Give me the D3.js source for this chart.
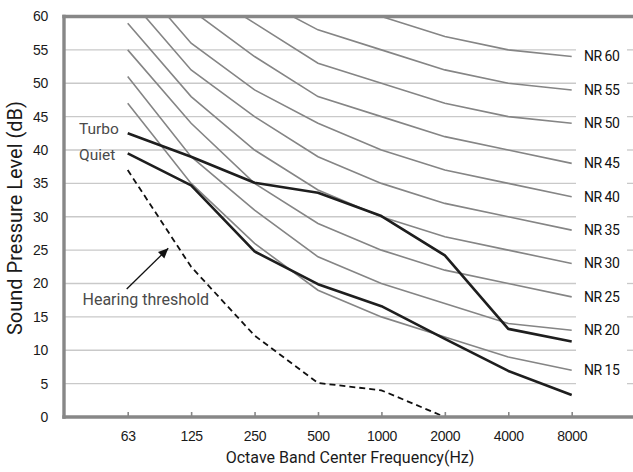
<!DOCTYPE html>
<html>
<head>
<meta charset="utf-8">
<script src="https://cdn.jsdelivr.net/npm/d3@7"></script>
<style>
  html, body { margin: 0; padding: 0; background: #fff; }
  svg { display: block; font-family: Roboto, "Open Sans", sans-serif; }
</style>
</head>
<body>
<script>
// ---- Data ----
const freqs = ["63", "125", "250", "500", "1000", "2000", "4000", "8000"];
const yTicks = [0, 5, 10, 15, 20, 25, 30, 35, 40, 45, 50, 55, 60];

const nr15 = [47, 35, 26, 19, 15, 12, 9, 7];
const nr20 = [51, 39, 31, 24, 20, 17, 14, 13];
const nr25 = [55, 44, 35, 29, 25, 22, 20, 18];
const nr30 = [59, 48, 40, 34, 30, 27, 25, 23];
const nr35 = [63, 52, 45, 39, 35, 32, 30, 28];
const nr40 = [67, 56, 49, 44, 40, 37, 35, 33];
const nr45 = [71, 61, 54, 48, 45, 42, 40, 38];
const nr50 = [75, 65, 59, 53, 50, 47, 45, 44];
const nr55 = [79, 69, 63, 58, 55, 52, 50, 49];
const nr60 = [83, 73, 68, 63, 60, 57, 55, 54];
const nrNames = ["NR 15", "NR 20", "NR 25", "NR 30", "NR 35", "NR 40", "NR 45", "NR 50", "NR 55", "NR 60"];
const nrCurves = [nr15, nr20, nr25, nr30, nr35, nr40, nr45, nr50, nr55, nr60];

const turbo = [42.5, 39, 35.1, 33.6, 30.1, 24.2, 13.2, 11.3];
const quiet = [39.5, 34.7, 24.8, 19.9, 16.6, 11.7, 6.9, 3.3];
const threshold = [37, 22.5, 12.2, 5.1, 4, 0];
const thresholdFreqs = ["63", "125", "250", "500", "1000", "2000"];

// ---- Layout ----
const W = 633, H = 472;
const L = 64, R = 633, T = 16.5, B = 417;

const svg = d3.select("body").append("svg").attr("width", W).attr("height", H);

const x = d3.scalePoint().domain(freqs).range([127.7, 571.7]);
const y = d3.scaleLinear().domain([0, 60]).range([B, T]);

// clip
svg.append("defs").append("clipPath").attr("id", "plotclip")
  .append("rect").attr("x", L).attr("y", T).attr("width", R - L).attr("height", B - T);

// grid lines (interrupted behind NR labels)
const gridVals = yTicks.filter(v => v > 0 && v < 60);
const grid = svg.append("g").attr("stroke", "#c9c9c9").attr("stroke-width", 1.3);
grid.selectAll("line.g1").data(gridVals).join("line")
  .attr("x1", L).attr("x2", 576).attr("y1", d => y(d)).attr("y2", d => y(d));
grid.selectAll("line.g2").data(gridVals).join("line")
  .attr("x1", 627).attr("x2", R).attr("y1", d => y(d)).attr("y2", d => y(d));

const line = d3.line().x((d, i) => x(freqs[i])).y(d => y(d));

// NR curves
const plot = svg.append("g").attr("clip-path", "url(#plotclip)");
plot.selectAll("path.nr").data(nrCurves).join("path")
  .attr("fill", "none").attr("stroke", "#858585").attr("stroke-width", 1.6)
  .attr("d", line);

// hearing threshold
const thrLine = d3.line().x((d, i) => x(thresholdFreqs[i])).y(d => y(d));
plot.append("path").datum(threshold)
  .attr("fill", "none").attr("stroke", "#111").attr("stroke-width", 1.8)
  .attr("stroke-dasharray", "6,4").attr("d", thrLine);

// Turbo / Quiet
plot.selectAll("path.tq").data([turbo, quiet]).join("path")
  .attr("fill", "none").attr("stroke", "#1e1e1e").attr("stroke-width", 2.6)
  .attr("stroke-linejoin", "round")
  .attr("d", line);

// axes frame
const axisColor = "#878787";
svg.append("line").attr("x1", L - 1.7).attr("x2", R).attr("y1", T).attr("y2", T)
  .attr("stroke", axisColor).attr("stroke-width", 3.4);
svg.append("line").attr("x1", L).attr("x2", L).attr("y1", T - 1.7).attr("y2", B + 1.7)
  .attr("stroke", axisColor).attr("stroke-width", 3.4);

// x axis
const xAxis = svg.append("g").attr("transform", `translate(0,${B})`)
  .call(d3.axisBottom(x).tickSizeInner(-5).tickSizeOuter(0).tickPadding(14.5));
xAxis.select(".domain").remove();
xAxis.selectAll(".tick line").attr("stroke", axisColor).attr("stroke-width", 1.6);
xAxis.selectAll("text").attr("font-size", 14).attr("fill", "#1a1a1a").attr("letter-spacing", -0.3);
svg.append("line").attr("x1", L - 1.7).attr("x2", R).attr("y1", B).attr("y2", B)
  .attr("stroke", axisColor).attr("stroke-width", 3.4);

// y axis labels
const yAxis = svg.append("g").attr("transform", `translate(${L},0)`)
  .call(d3.axisLeft(y).tickValues(yTicks).tickSize(0).tickPadding(16));
yAxis.select(".domain").remove();
yAxis.selectAll("text").attr("font-size", 14).attr("fill", "#1a1a1a").attr("letter-spacing", -0.3);

// NR labels
svg.selectAll("text.nrl").data(nrCurves).join("text")
  .attr("x", 584).attr("y", d => y(d[d.length - 1])).attr("dy", "0.35em")
  .attr("font-size", 14).attr("fill", "#111").attr("letter-spacing", -0.5)
  .text((d, i) => nrNames[i]);

// annotations
svg.append("text").attr("x", 79).attr("y", 134).attr("font-size", 15.5).attr("fill", "#4a4a4a").text("Turbo");
svg.append("text").attr("x", 79).attr("y", 159.5).attr("font-size", 15.5).attr("fill", "#4a4a4a").text("Quiet");
svg.append("text").attr("x", 82.5).attr("y", 305).attr("font-size", 16).attr("fill", "#4a4a4a").text("Hearing threshold");

svg.append("defs").append("marker").attr("id", "arr")
  .attr("viewBox", "0 0 10 10").attr("refX", 10).attr("refY", 5)
  .attr("markerWidth", 10).attr("markerHeight", 10).attr("markerUnits", "userSpaceOnUse")
  .attr("orient", "auto")
  .append("path").attr("d", "M0,0.5 L10,5 L0,9.5 Z").attr("fill", "#111");
svg.append("line").attr("x1", 126.7).attr("y1", 289).attr("x2", 168.3).attr("y2", 248.3)
  .attr("stroke", "#111").attr("stroke-width", 1.3).attr("marker-end", "url(#arr)");

// axis titles
svg.append("text").attr("x", 350).attr("y", 463).attr("text-anchor", "middle")
  .attr("font-size", 16).attr("fill", "#1a1a1a").text("Octave Band Center Frequency(Hz)");
svg.append("text").attr("transform", "translate(22,218) rotate(-90)").attr("text-anchor", "middle")
  .attr("font-size", 20).attr("fill", "#1a1a1a").text("Sound Pressure Level (dB)");
</script>
</body>
</html>
